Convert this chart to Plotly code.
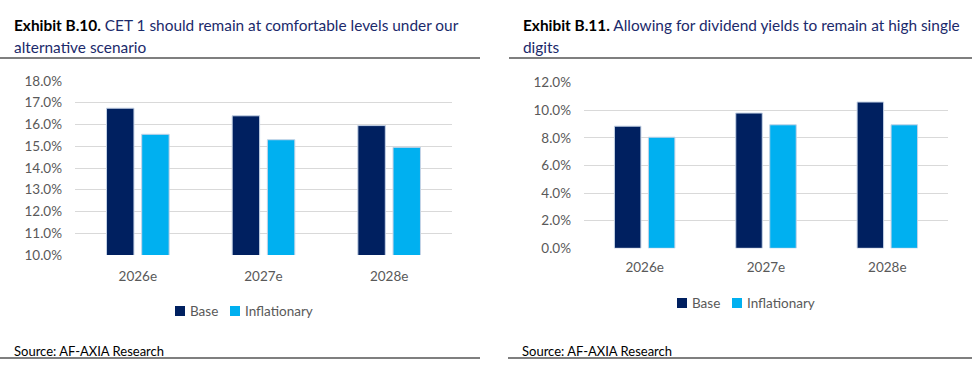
import plotly.graph_objects as go

categories = ["2026e", "2027e", "2028e"]
series_names = ["Base", "Inflationary"]
cet1_base = [16.75, 16.4, 15.95]
cet1_infl = [15.55, 15.3, 14.95]
div_base = [8.85, 9.8, 10.6]
div_infl = [8.05, 8.95, 8.95]

BASE_C = "#002060"
INFL_C = "#00B0F0"
GRID_C = "#D9D9D9"
TICK_C = "#595959"
FONT = "Lato, Liberation Sans, Arial, sans-serif"

W, H = 972, 373

def py(px):
    return 1 - px / H

def px_x(px):
    return px / W

fig = go.Figure()

bar_line = dict(color="#C5D3E6", width=1)
colors = [BASE_C, INFL_C]

for ys, name, col in [(cet1_base, series_names[0], BASE_C), (cet1_infl, series_names[1], INFL_C)]:
    fig.add_trace(go.Bar(x=categories, y=ys, name=name, marker=dict(color=col, line=bar_line),
                         xaxis="x", yaxis="y", showlegend=False))
for ys, name, col in [(div_base, series_names[0], BASE_C), (div_infl, series_names[1], INFL_C)]:
    fig.add_trace(go.Bar(x=categories, y=ys, name=name, marker=dict(color=col, line=bar_line),
                         xaxis="x2", yaxis="y2", showlegend=False))

tickfont = dict(family=FONT, size=13.5, color=TICK_C)

fig.update_layout(
    width=W, height=H,
    margin=dict(l=0, r=0, t=0, b=0, autoexpand=False),
    paper_bgcolor="white", plot_bgcolor="white",
    barmode="group", bargap=0.44, bargroupgap=0.22,
    font=dict(family=FONT),
    xaxis=dict(domain=[px_x(75), px_x(452)], anchor="y", showgrid=False, showline=False,
               ticks="", tickfont=tickfont, ticklabelstandoff=11, automargin=False),
    yaxis=dict(domain=[py(255), py(81)], anchor="x", range=[10, 18], dtick=1,
               tickformat=".1f", ticksuffix="%", showgrid=True, gridcolor=GRID_C, gridwidth=1,
               zeroline=False, showline=False, tickfont=tickfont, ticklabelstandoff=12, automargin=False),
    xaxis2=dict(domain=[px_x(584), px_x(948)], anchor="y2", showgrid=False, showline=False,
                ticks="", tickfont=tickfont, ticklabelstandoff=9, automargin=False),
    yaxis2=dict(domain=[py(248.3), py(82.7)], anchor="x2", range=[0, 12], dtick=2,
                tickformat=".1f", ticksuffix="%", showgrid=True, gridcolor=GRID_C, gridwidth=1,
                zeroline=False, showline=False, tickfont=tickfont, ticklabelstandoff=12, automargin=False),
)

# legends (swatch + label), one per panel
legend_specs = [
    [(175, 188, 311), (230, 243, 311)],
    [(677, 690, 303), (732, 745, 303)],
]
for panel in legend_specs:
    for (sx, tx, y), name, col in zip(panel, series_names, colors):
        fig.add_shape(type="rect", xref="paper", yref="paper",
                      x0=px_x(sx), x1=px_x(sx + 10), y0=py(y - 5), y1=py(y + 5),
                      fillcolor=col, line=dict(width=0))
        fig.add_annotation(text=name, x=px_x(tx), y=py(y), xref="paper", yref="paper",
                           xanchor="left", yanchor="middle", showarrow=False,
                           font=dict(family=FONT, size=13.5, color=TICK_C))

TITLE_C = "#1B2A6B"
titles = [
    (12, 25, "<b><span style='color:black'>Exhibit B.10.</span></b> CET 1 should remain at comfortable levels under our"),
    (12, 47, "alternative scenario"),
    (521, 25, "<b><span style='color:black'>Exhibit B.11.</span></b> Allowing for dividend yields to remain at high single"),
    (521, 47, "digits"),
]
for x, y, t in titles:
    fig.add_annotation(text=t, x=px_x(x), y=py(y), xref="paper", yref="paper", xanchor="left",
                       yanchor="middle", showarrow=False, font=dict(family=FONT, size=15.4, color=TITLE_C))

for x in (12, 520):
    fig.add_annotation(text="Source: AF-AXIA Research", x=px_x(x), y=py(351), xref="paper", yref="paper",
                       xanchor="left", yanchor="middle", showarrow=False,
                       font=dict(family=FONT, size=13, color="black"))

LINE_C = "#7F7F7F"
for x0, x1, y in [(0, 480, 58), (509, 972, 58), (0, 480, 358), (508, 972, 358)]:
    fig.add_shape(type="line", xref="paper", yref="paper", x0=px_x(x0), x1=px_x(x1), y0=py(y), y1=py(y),
                  line=dict(color=LINE_C, width=2))

fig.write_html("out.html", config={"displayModeBar": False},
               post_script="document.body.style.margin='0';document.body.style.overflow='hidden';")
